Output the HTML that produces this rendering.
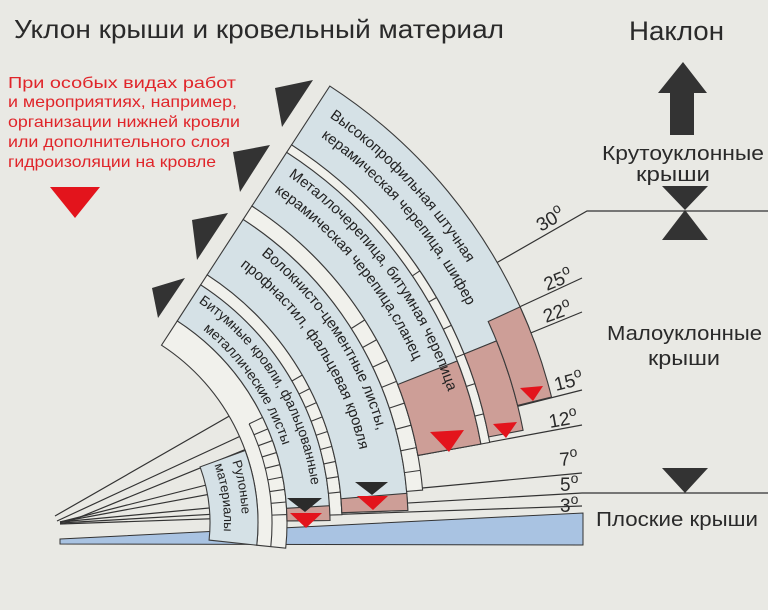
<!DOCTYPE html>
<html><head><meta charset="utf-8"><style>
html,body{margin:0;padding:0;background:#e9e9e4;}
svg{display:block;}
text{font-family:"Liberation Sans","DejaVu Sans",sans-serif;}
</style></head><body>
<svg width="768" height="610" viewBox="0 0 768 610" xmlns="http://www.w3.org/2000/svg">
<rect width="768" height="610" fill="#e9e9e4"/>
<defs>
<path id="tD1" d="M322.8,112.6 A495,495 0 0 1 541,523"/>
<path id="tD2" d="M311.1,130.1 A474,474 0 0 1 520,523"/>
<path id="tC1" d="M282.5,172.3 A423,423 0 0 1 469,523"/>
<path id="tC2" d="M270.8,189.7 A402,402 0 0 1 448,523"/>
<path id="tB1" d="M238.4,237.8 A344,344 0 0 1 390,523"/>
<path id="tB2" d="M226.1,256.1 A322,322 0 0 1 368,523"/>
<path id="tA1" d="M195.9,300.8 A268,268 0 0 1 314,523"/>
<path id="tA2" d="M185.2,316.6 A249,249 0 0 1 295,523"/>
<path id="tR1" d="M230.2,456.0 A196,196 0 0 1 241.3,540.1"/>
<path id="tR2" d="M213.3,462.1 A178,178 0 0 1 223.3,538.5"/>
</defs>

<!-- titles -->
<text x="14" y="38" font-size="26" fill="#2a2a2a" textLength="490" lengthAdjust="spacingAndGlyphs">Уклон крыши и кровельный материал</text>
<text x="629" y="40" font-size="27" fill="#2a2a2a" textLength="95" lengthAdjust="spacingAndGlyphs">Наклон</text>

<g font-size="16" fill="#e0252a">
<text x="8" y="88" textLength="228" lengthAdjust="spacingAndGlyphs">При особых видах работ</text>
<text x="8" y="107" textLength="229" lengthAdjust="spacingAndGlyphs">и мероприятиях, например,</text>
<text x="8" y="127" textLength="232" lengthAdjust="spacingAndGlyphs">организации нижней кровли</text>
<text x="8" y="147" textLength="222" lengthAdjust="spacingAndGlyphs">или дополнительного слоя</text>
<text x="8" y="167" textLength="208" lengthAdjust="spacingAndGlyphs">гидроизоляции на кровле</text>
</g>
<polygon points="50,187 100,187 75,218" fill="#e3141c"/>

<!-- right side -->
<polygon points="683,62 707,93 658,93" fill="#333"/>
<rect x="670" y="93" width="24" height="42" fill="#333"/>
<text x="602" y="160" font-size="20" fill="#2a2a2a" textLength="162" lengthAdjust="spacingAndGlyphs">Крутоуклонные</text>
<text x="636" y="181" font-size="20" fill="#2a2a2a" textLength="74" lengthAdjust="spacingAndGlyphs">крыши</text>
<polygon points="662,186 708,186 685,210" fill="#333"/>
<polygon points="685,210 708,240 662,240" fill="#333"/>
<text x="607" y="340" font-size="20" fill="#2a2a2a" textLength="155" lengthAdjust="spacingAndGlyphs">Малоуклонные</text>
<text x="648" y="365" font-size="20" fill="#2a2a2a" textLength="72" lengthAdjust="spacingAndGlyphs">крыши</text>
<polygon points="662,468 708,468 685,493" fill="#333"/>
<text x="596" y="526" font-size="20" fill="#2a2a2a" textLength="162" lengthAdjust="spacingAndGlyphs">Плоские крыши</text>

<!-- fan lines -->
<g stroke="#333" stroke-width="1.2" fill="none">
<polyline points="55,516 587,211 768,211"/>
<line x1="57" y1="521" x2="582" y2="278"/>
<line x1="63" y1="524" x2="582" y2="312"/>
<line x1="60" y1="522" x2="582" y2="390"/>
<line x1="60" y1="522" x2="582" y2="425"/>
<line x1="60" y1="522" x2="582" y2="473"/>
<polyline points="60,523 582,493 768,493"/>
<line x1="60" y1="524" x2="582" y2="506"/>
</g>

<!-- blue bar -->
<polygon points="60,539 583,513 583,545 60,544" fill="#a9c3e2" stroke="#333" stroke-width="1"/>

<g stroke="#3a3a3a" stroke-width="1.1">
<!-- ladder A + rulon -->
<path d="M177.3,320.9 A241,241 0 0 1 285.7,548.2 L256.8,545.2 A212,212 0 0 0 161.5,345.2 Z" fill="#f1f1ec"/>
<path d="M249.1,423.9 A226,226 0 0 1 270.8,546.6" fill="none"/>
<path d="M245.2,450.5 A212,212 0 0 1 256.8,545.2 L209.1,540.1 A164,164 0 0 0 200.1,466.9 Z" fill="#d5e1e6"/>
<!-- A -->
<path d="M200.7,284.8 A284,284 0 0 1 330.0,520.5 L287.0,520.9 A241,241 0 0 0 177.3,320.9 Z" fill="#d5e1e6"/>
<path d="M329.5,505.7 A284,284 0 0 1 330.0,520.5 L287.0,520.9 A241,241 0 0 0 286.5,508.3 Z" fill="#cd9e97"/>
<!-- ladder B -->
<path d="M207.2,274.8 A296,296 0 0 1 341.9,514.7 L329.9,515.1 A284,284 0 0 0 200.7,284.8 Z" fill="#f1f1ec"/>
<!-- B -->
<path d="M243.2,219.4 A362,362 0 0 1 407.8,510.4 L341.8,512.7 A296,296 0 0 0 207.2,274.8 Z" fill="#d5e1e6"/>
<path d="M406.8,493.3 A362,362 0 0 1 407.8,510.4 L341.8,512.7 A296,296 0 0 0 341.0,498.7 Z" fill="#cd9e97"/>
<!-- ladder C -->
<path d="M251.9,206.0 A378,378 0 0 1 422.6,490.1 L406.6,491.4 A362,362 0 0 0 243.2,219.4 Z" fill="#f1f1ec"/>
<!-- C -->
<path d="M286.7,152.3 A442,442 0 0 1 480.9,444.0 L417.9,455.4 A378,378 0 0 0 251.9,206.0 Z" fill="#d5e1e6"/>
<path d="M457.2,361.0 A442,442 0 0 1 480.9,444.0 L417.9,455.4 A378,378 0 0 0 397.7,384.5 Z" fill="#cd9e97"/>
<!-- ladder CD -->
<path d="M291.6,144.8 A451,451 0 0 1 489.7,442.4 L480.9,444.0 A442,442 0 0 0 286.7,152.3 Z" fill="#f1f1ec"/>
<!-- D -->
<path d="M329.8,86.1 A521,521 0 0 1 529.1,327.8 L464.2,354.0 A451,451 0 0 0 291.6,144.8 Z" fill="#d5e1e6"/>
<path d="M496.6,340.9 A486,486 0 0 1 523.1,430.3 L488.7,436.9 A451,451 0 0 0 464.2,354.0 Z" fill="#cd9e97"/>
<path d="M520.1,306.9 A521,521 0 0 1 551.5,397.0 L517.6,405.4 A486,486 0 0 0 488.2,321.5 Z" fill="#cd9e97"/>

<!-- ticks -->
<g>
<line x1="272" y1="523" x2="287" y2="523" transform="rotate(-2 46 523)"/>
<line x1="272" y1="523" x2="287" y2="523" transform="rotate(-5 46 523)"/>
<line x1="272" y1="523" x2="287" y2="523" transform="rotate(-8 46 523)"/>
<line x1="272" y1="523" x2="287" y2="523" transform="rotate(-11 46 523)"/>
<line x1="272" y1="523" x2="287" y2="523" transform="rotate(-14 46 523)"/>
<line x1="272" y1="523" x2="287" y2="523" transform="rotate(-17 46 523)"/>
<line x1="272" y1="523" x2="287" y2="523" transform="rotate(-20 46 523)"/>
<line x1="272" y1="523" x2="287" y2="523" transform="rotate(-23 46 523)"/>
<line x1="272" y1="523" x2="287" y2="523" transform="rotate(-26 46 523)"/>
<line x1="330" y1="523" x2="342" y2="523" transform="rotate(-6 46 523)"/>
<line x1="330" y1="523" x2="342" y2="523" transform="rotate(-9 46 523)"/>
<line x1="330" y1="523" x2="342" y2="523" transform="rotate(-12 46 523)"/>
<line x1="330" y1="523" x2="342" y2="523" transform="rotate(-15 46 523)"/>
<line x1="330" y1="523" x2="342" y2="523" transform="rotate(-18 46 523)"/>
<line x1="330" y1="523" x2="342" y2="523" transform="rotate(-21 46 523)"/>
<line x1="330" y1="523" x2="342" y2="523" transform="rotate(-24 46 523)"/>
<line x1="330" y1="523" x2="342" y2="523" transform="rotate(-27 46 523)"/>
<line x1="330" y1="523" x2="342" y2="523" transform="rotate(-30 46 523)"/>
<line x1="408" y1="523" x2="424" y2="523" transform="rotate(-8 46 523)"/>
<line x1="408" y1="523" x2="424" y2="523" transform="rotate(-11.5 46 523)"/>
<line x1="408" y1="523" x2="424" y2="523" transform="rotate(-15 46 523)"/>
<line x1="408" y1="523" x2="424" y2="523" transform="rotate(-18.5 46 523)"/>
<line x1="408" y1="523" x2="424" y2="523" transform="rotate(-22 46 523)"/>
<line x1="408" y1="523" x2="424" y2="523" transform="rotate(-25.5 46 523)"/>
<line x1="408" y1="523" x2="424" y2="523" transform="rotate(-29 46 523)"/>
<line x1="408" y1="523" x2="424" y2="523" transform="rotate(-32.5 46 523)"/>
<line x1="488" y1="523" x2="497" y2="523" transform="rotate(-14 46 523)"/>
<line x1="488" y1="523" x2="497" y2="523" transform="rotate(-18 46 523)"/>
<line x1="488" y1="523" x2="497" y2="523" transform="rotate(-22 46 523)"/>
<line x1="488" y1="523" x2="497" y2="523" transform="rotate(-26 46 523)"/>
<line x1="488" y1="523" x2="497" y2="523" transform="rotate(-30 46 523)"/>
<line x1="488" y1="523" x2="497" y2="523" transform="rotate(-34 46 523)"/>
</g>
</g>

<!-- top triangles -->
<g fill="#333">
<polygon points="275,88 313,80 282,127"/>
<polygon points="233,152 270,145 240,192"/>
<polygon points="192,220 228,213 197,260"/>
<polygon points="152,288 185,278 158,318"/>
</g>

<!-- bottom markers -->
<polygon points="287,498 322,498 305,512" fill="#2b2b2b"/>
<polygon points="290,513 322,513 306,528" fill="#e3141c"/>
<polygon points="355,482 388,482 372,495" fill="#2b2b2b"/>
<polygon points="357,496 388,496 373,510" fill="#e3141c"/>
<polygon points="430,432 464,430 449,452" fill="#e3141c"/>
<polygon points="493,424 517,422 506,438" fill="#e3141c"/>
<polygon points="520,388 543,386 533,401" fill="#e3141c"/>

<!-- band texts -->
<g fill="#222">
<text font-size="15"><textPath href="#tD1" startOffset="8">Высокопрофильная штучная</textPath></text>
<text font-size="15"><textPath href="#tD2" startOffset="12">керамическая черепица, шифер</textPath></text>
<text font-size="15"><textPath href="#tC1" startOffset="7">Металлочерепица, битумная черепица</textPath></text>
<text font-size="15"><textPath href="#tC2" startOffset="4">керамическая черепица,сланец</textPath></text>
<text font-size="15"><textPath href="#tB1" startOffset="28">Волокнисто-цементные листы,</textPath></text>
<text font-size="15"><textPath href="#tB2" startOffset="17">профнастил, фальцевая кровля</textPath></text>
<text font-size="14"><textPath href="#tA1" startOffset="3">Битумные кровли, фальцованные</textPath></text>
<text font-size="14"><textPath href="#tA2" startOffset="22">металлические листы</textPath></text>
<text font-size="13"><textPath href="#tR1" startOffset="6">Рулоные</textPath></text>
<text font-size="13"><textPath href="#tR2" startOffset="3">материалы</textPath></text>
</g>

<!-- angle labels -->
<g font-size="19" fill="#2a2a2a">
<text x="541" y="232" transform="rotate(-30 541 232)">30<tspan font-size="14" dy="-8">o</tspan></text>
<text x="547" y="291" transform="rotate(-22 547 291)">25<tspan font-size="14" dy="-8">o</tspan></text>
<text x="546" y="323" transform="rotate(-20 546 323)">22<tspan font-size="14" dy="-8">o</tspan></text>
<text x="556" y="391" transform="rotate(-14 556 391)">15<tspan font-size="14" dy="-8">o</tspan></text>
<text x="550" y="428" transform="rotate(-10 550 428)">12<tspan font-size="14" dy="-8">o</tspan></text>
<text x="560" y="466" transform="rotate(-5 560 466)">7<tspan font-size="14" dy="-8">o</tspan></text>
<text x="560" y="491">5<tspan font-size="14" dy="-8">o</tspan></text>
<text x="560" y="512">3<tspan font-size="14" dy="-8">o</tspan></text>
</g>
</svg>
</body></html>
